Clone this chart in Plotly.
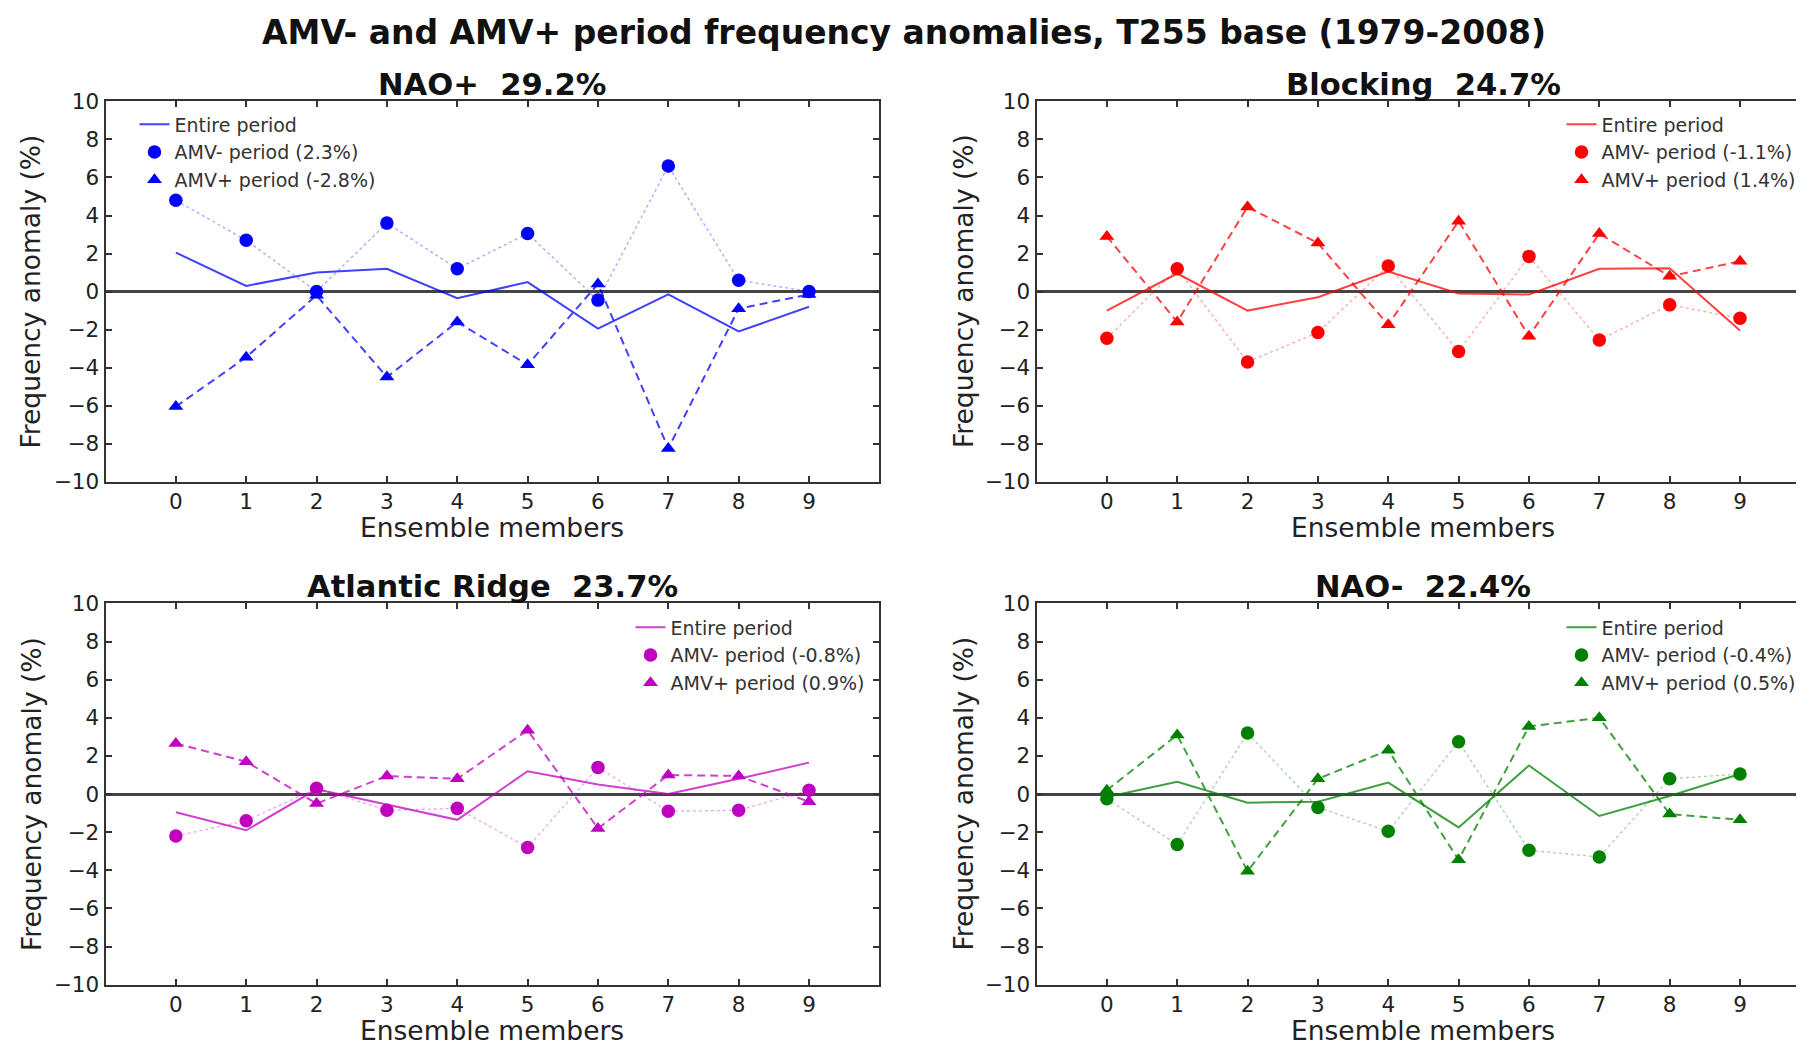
import plotly.graph_objects as go

# ---------------- data ----------------
members = [0, 1, 2, 3, 4, 5, 6, 7, 8, 9]
x_tick_vals = [0, 1, 2, 3, 4, 5, 6, 7, 8, 9]
x_tick_text = ["0", "1", "2", "3", "4", "5", "6", "7", "8", "9"]
y_tick_vals = [-10, -8, -6, -4, -2, 0, 2, 4, 6, 8, 10]
y_tick_text = ["\u221210", "\u22128", "\u22126", "\u22124", "\u22122", "0", "2", "4", "6", "8", "10"]

main_title = "AMV- and AMV+ period frequency anomalies, T255 base (1979-2008)"
panel_titles = ["NAO+  29.2%", "Blocking  24.7%", "Atlantic Ridge  23.7%", "NAO-  22.4%"]
entire_label = "Entire period"
amv_minus_labels = ["AMV- period (2.3%)", "AMV- period (-1.1%)", "AMV- period (-0.8%)", "AMV- period (-0.4%)"]
amv_plus_labels = ["AMV+ period (-2.8%)", "AMV+ period (1.4%)", "AMV+ period (0.9%)", "AMV+ period (0.5%)"]

# NAO+
naop_entire = [2.05, 0.3, 1.0, 1.2, -0.35, 0.5, -1.95, -0.15, -2.1, -0.8]
naop_minus = [4.8, 2.7, 0.0, 3.6, 1.2, 3.05, -0.45, 6.6, 0.6, 0.0]
naop_plus = [-6.05, -3.45, -0.2, -4.5, -1.6, -3.85, 0.4, -8.25, -0.9, -0.15]
# Blocking
block_entire = [-1.0, 0.95, -1.0, -0.3, 1.05, -0.1, -0.15, 1.2, 1.22, -2.05]
block_minus = [-2.45, 1.2, -3.7, -2.15, 1.35, -3.15, 1.85, -2.55, -0.7, -1.4]
block_plus = [2.9, -1.6, 4.45, 2.55, -1.75, 3.7, -2.35, 3.05, 0.8, 1.6]
# Atlantic Ridge
ar_entire = [-0.95, -1.9, 0.25, -0.55, -1.35, 1.2, 0.5, 0.0, 0.8, 1.65]
ar_minus = [-2.2, -1.4, 0.3, -0.85, -0.75, -2.8, 1.4, -0.9, -0.85, 0.2]
ar_plus = [2.65, 1.7, -0.5, 0.95, 0.8, 3.35, -1.8, 1.0, 0.95, -0.4]
# NAO-
naom_entire = [-0.15, 0.65, -0.45, -0.4, 0.6, -1.75, 1.5, -1.15, -0.1, 1.05]
naom_minus = [-0.25, -2.65, 3.2, -0.7, -1.95, 2.75, -2.95, -3.3, 0.8, 1.05]
naom_plus = [0.2, 3.1, -4.05, 0.8, 2.3, -3.45, 3.55, 4.0, -1.05, -1.35]

entire_series = [naop_entire, block_entire, ar_entire, naom_entire]
minus_series = [naop_minus, block_minus, ar_minus, naom_minus]
plus_series = [naop_plus, block_plus, ar_plus, naom_plus]

# ---------------- styling ----------------
rgb = [(0, 0, 255), (255, 0, 0), (191, 0, 191), (0, 128, 0)]
FONT = "DejaVu Sans"
W, H = 1804, 1045
# mapping of figure px to where they show up in the captured picture
OX, OY, SY = 6.5, 18.4, 0.978


def fx(X):  # target picture px -> paper fraction
    return (X - OX) / W


def fy(Y):
    return 1 - ((Y - OY) / SY) / H


L_LEFT = 104
R_LEFT = 1035
SPAN = 70.35           # px per x unit
ROW_TOP = [100, 603]
ROW_BOT = [481, 985]

x_domains = [[fx(L_LEFT), fx(L_LEFT + 11 * SPAN)], [fx(R_LEFT), min(1.0, fx(R_LEFT + 11 * SPAN))]] * 2
x_ranges = [[-1, 10], [-1, 10]] * 2
y_domains = [[fy(ROW_BOT[0]), fy(ROW_TOP[0])]] * 2 + [[fy(ROW_BOT[1]), fy(ROW_TOP[1])]] * 2

# (left x of legend box, top y of legend box) in picture px
legend_pos = [(174 - 41, 104), (1601 - 41, 104), (670 - 41, 608), (1601 - 41, 608)]

fig = go.Figure()
layout = dict(
    width=W, height=H,
    margin=dict(l=0, r=0, t=0, b=0),
    paper_bgcolor="white", plot_bgcolor="white",
    font=dict(family=FONT, color="#222"),
    showlegend=True,
    annotations=[],
)

for i in range(4):
    r, g, b = rgb[i]
    solid = f"rgb({r},{g},{b})"
    ax_suffix = "" if i == 0 else str(i + 1)
    xa, ya = "x" + ax_suffix, "y" + ax_suffix
    lg = "legend" if i == 0 else f"legend{i + 1}"

    fig.add_trace(go.Scatter(
        x=members, y=entire_series[i], mode="lines", name=entire_label,
        line=dict(color=f"rgba({r},{g},{b},0.75)", width=2),
        xaxis=xa, yaxis=ya, legend=lg))
    # AMV- : light dotted connecting line + solid circle markers
    fig.add_trace(go.Scatter(
        x=members, y=minus_series[i], mode="lines", showlegend=False,
        line=dict(color=f"rgba({r},{g},{b},0.35)", width=1.3, dash="dot"),
        xaxis=xa, yaxis=ya, legend=lg))
    fig.add_trace(go.Scatter(
        x=members, y=minus_series[i], mode="markers", name=amv_minus_labels[i],
        marker=dict(symbol="circle", size=13.5, color=solid),
        xaxis=xa, yaxis=ya, legend=lg))
    # AMV+ : dashed line + solid triangle markers
    fig.add_trace(go.Scatter(
        x=members, y=plus_series[i], mode="lines", showlegend=False,
        line=dict(color=f"rgba({r},{g},{b},0.75)", width=2, dash="8px,5px"),
        xaxis=xa, yaxis=ya, legend=lg))
    fig.add_trace(go.Scatter(
        x=members, y=plus_series[i], mode="markers", name=amv_plus_labels[i],
        marker=dict(symbol="triangle-up", size=13, color=solid),
        xaxis=xa, yaxis=ya, legend=lg))

    axis_common = dict(showline=True, linecolor="#333", linewidth=2, mirror="allticks",
                       ticks="inside", ticklen=6, tickwidth=1.5, tickcolor="#333",
                       showgrid=False, tickfont=dict(family=FONT, size=21.5, color="#222"))
    layout["xaxis" + ax_suffix] = dict(
        domain=x_domains[i], range=x_ranges[i], anchor=ya,
        tickmode="array", tickvals=x_tick_vals, ticktext=x_tick_text,
        zeroline=False, **axis_common)
    layout["yaxis" + ax_suffix] = dict(
        domain=y_domains[i], range=[-10, 10], anchor=xa,
        tickmode="array", tickvals=y_tick_vals, ticktext=y_tick_text,
        zeroline=True, zerolinecolor="#444", zerolinewidth=2.5, **axis_common)

    lx, ly = legend_pos[i]
    layout[lg] = dict(x=fx(lx), y=fy(ly), xanchor="left", yanchor="top", xref="paper", yref="paper",
                      bgcolor="rgba(0,0,0,0)", borderwidth=0,
                      font=dict(family=FONT, size=19, color="#333"),
                      tracegroupgap=0, itemwidth=30)

    row = i // 2
    left_px = L_LEFT if i % 2 == 0 else R_LEFT
    xc = left_px + 11 * SPAN / 2
    top_px, bot_px = ROW_TOP[row], ROW_BOT[row]
    # panel title
    layout["annotations"].append(dict(
        text="<b>" + panel_titles[i] + "</b>", x=fx(xc), y=fy(top_px - 17),
        xref="paper", yref="paper", xanchor="center", yanchor="middle", showarrow=False,
        font=dict(family=FONT, size=30.6, color="#111")))
    # x-axis title
    layout["annotations"].append(dict(
        text="Ensemble members", x=fx(xc), y=fy(bot_px + 46),
        xref="paper", yref="paper", xanchor="center", yanchor="middle", showarrow=False,
        font=dict(family=FONT, size=26.5, color="#222")))
    # y-axis title
    yt_x = 29.5 if i % 2 == 0 else 962
    layout["annotations"].append(dict(
        text="Frequency anomaly (%)", x=fx(yt_x), y=fy((top_px + bot_px) / 2),
        xref="paper", yref="paper", xanchor="center", yanchor="middle", showarrow=False,
        textangle=-90, font=dict(family=FONT, size=26.5, color="#222")))

layout["annotations"].append(dict(
    text="<b>" + main_title + "</b>", x=fx(902), y=1 - 13 / H,
    xref="paper", yref="paper", xanchor="center", yanchor="middle", showarrow=False,
    font=dict(family=FONT, size=33, color="#111")))

fig.update_layout(**layout)
fig.write_html("out.html")
